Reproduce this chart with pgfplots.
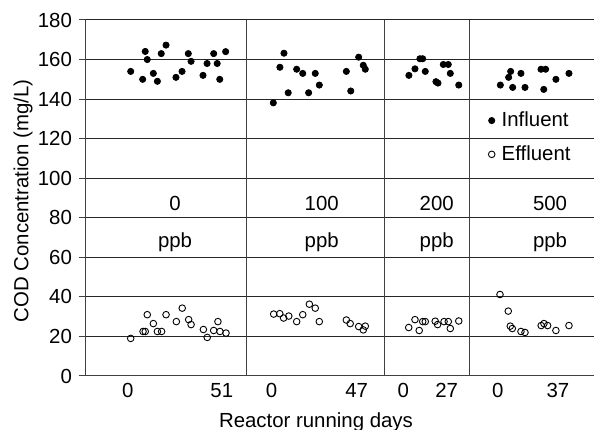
\documentclass[border=0pt]{standalone}
\usepackage{pgfplots}
\pgfplotsset{compat=1.18}
\usepackage{pgfplotstable}
\usepackage{fontspec}
\setmainfont{Liberation Sans}

\pgfplotstableread{
x y
24.3 154.0
32.2 164.1
33.3 160.0
30.8 150.0
36.6 153.0
38.8 149.0
40.9 163.0
43.5 167.3
48.9 151.0
52.2 154.0
55.6 163.0
57.1 159.1
63.6 152.0
65.8 158.0
69.4 163.0
71.3 158.0
72.7 150.0
75.9 164.0
101.8 138.1
107.6 163.2
105.4 156.1
109.9 143.2
114.5 155.1
117.8 153.0
121.0 143.2
124.6 153.0
126.8 147.1
141.5 154.0
143.9 144.1
148.2 161.2
150.7 157.1
151.8 155.1
175.5 152.0
178.8 155.3
181.5 160.4
183.0 160.4
184.4 154.0
190.2 148.8
191.3 148.1
194.2 157.5
196.9 157.5
198.0 153.0
202.6 147.1
225.2 147.1
229.7 151.0
230.8 154.0
231.9 145.9
236.4 153.0
238.6 145.9
247.3 155.1
249.8 155.1
248.8 144.9
255.4 150.0
262.5 153.0
}\influent

\pgfplotstableread{
x y
24.3 19.0
31.0 22.5
32.2 22.5
33.3 31.0
36.6 26.5
38.8 22.5
41.1 22.5
43.5 31.0
49.1 27.5
52.3 34.3
55.8 28.5
57.1 26.0
63.8 23.5
65.9 19.5
69.4 23.0
71.7 27.5
72.8 22.5
76.1 21.7
102.0 31.3
105.3 31.5
107.4 29.3
110.2 30.3
114.5 27.5
117.8 31.0
121.4 36.3
124.6 34.3
126.8 27.5
141.5 28.3
143.6 26.5
148.2 25.0
150.7 23.3
151.8 25.2
175.4 24.5
178.8 28.5
181.1 23.0
183.0 27.5
184.4 27.5
189.8 27.7
191.1 26.0
194.6 27.5
196.9 27.5
198.0 24.0
202.6 27.8
225.0 41.2
229.5 32.8
230.6 25.2
231.7 24.0
236.4 22.5
238.6 22.0
247.4 25.5
248.9 26.5
250.9 25.5
255.4 23.0
262.5 25.5
}\effluent

\begin{document}
\begin{tikzpicture}[font=\fontsize{10.2}{12.2}\selectfont]
\begin{axis}[
  name=ax,
  scale only axis,
  width=254pt, height=178pt,
  xmin=0, xmax=276.1,
  ymin=0, ymax=180,
  axis lines=left,
  axis line style={-, black!75, line width=0.5pt},
  ytick={0,20,...,180},
  ymajorgrids,
  major grid style={black!85, line width=0.5pt},
  tick align=outside,
  ytick style={black!75, line width=0.5pt},
  major tick length=3.5pt,
  xtick={22.7,73.8,100.9,147.1,172.4,196,223.8,256.5},
  xticklabels={0,51,0,\raisebox{0.6pt}{47},0,\raisebox{-1.6pt}{27},0,\raisebox{0.8pt}{37}},
  xtick style={draw=none},
  xticklabel style={yshift=3.5pt},
  extra x ticks={87,162,208.2},
  extra x tick labels={},
  extra x tick style={grid=major, major grid style={black!75, line width=0.5pt}, tick style={draw=none}},
  /pgf/number format/assume math mode=true,
  xlabel={Reactor running days},
  ylabel={COD Concentration (mg/L)},
  xlabel style={at={(axis cs:125,0)}, anchor=base, yshift=-25.6pt},
  ylabel style={at={(axis description cs:0,0.4916)}, anchor=center, yshift=31.5pt},
  clip=false,
  legend style={at={(rel axis cs:0.79,0.752)}, anchor=north west, draw=none, fill=none,
    row sep=5pt, inner sep=0pt, nodes={inner sep=1.5pt}},
  legend cell align=left,
  legend image code/.code={\path[draw=none,fill=none] (-2pt,0pt) -- (3.5pt,0pt); \draw[#1] plot coordinates {(0pt,0pt)};},
]
\addplot[only marks, mark=*, mark size=1.55pt, mark options={fill=black, draw=black}] table[x=x,y=y] {\influent};
\addlegendentry{Influent}
\addplot[only marks, mark=o, mark size=1.65pt, mark options={draw=black, line width=0.45pt, fill=white}] table[x=x,y=y] {\effluent};
\addlegendentry{Effluent}

\node[anchor=base] at (axis cs:48.4,83.5) {0};
\node[anchor=base] at (axis cs:48.4,65) {ppb};
\node[anchor=base] at (axis cs:128.1,83.5) {100};
\node[anchor=base] at (axis cs:128.1,65) {ppb};
\node[anchor=base] at (axis cs:190.6,83.5) {200};
\node[anchor=base] at (axis cs:190.6,65) {ppb};
\node[anchor=base] at (axis cs:252.2,83.5) {500};
\node[anchor=base] at (axis cs:252.2,65) {ppb};
\end{axis}
\pgfresetboundingbox
\path ([xshift=-43pt,yshift=-27pt]ax.south west) rectangle ([xshift=0.5pt,yshift=10pt]ax.north east);
\end{tikzpicture}
\end{document}
